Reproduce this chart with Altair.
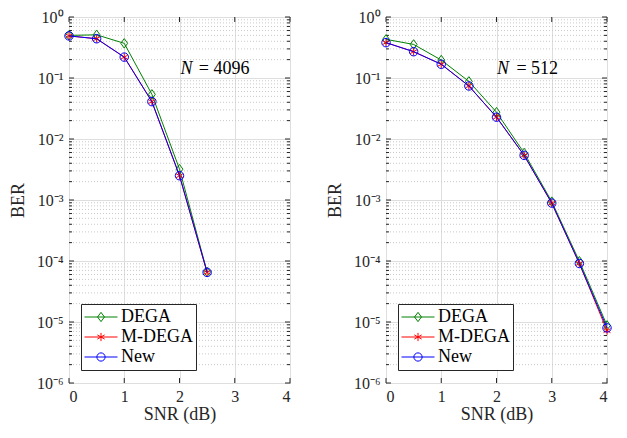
import altair as alt
import pandas as pd

# ---------------- data ----------------
series = ["DEGA", "M-DEGA", "New"]
colors = ["#008000", "#ff0000", "#0000ff"]

snr_4096 = [0, 0.5, 1, 1.5, 2, 2.5]
dega_4096 = [0.50, 0.51, 0.37, 0.054, 3.2e-3, 6.6e-5]
mdega_4096 = [0.49, 0.44, 0.22, 0.041, 2.5e-3, 6.5e-5]
new_4096 = [0.49, 0.44, 0.22, 0.041, 2.5e-3, 6.5e-5]

snr_512 = [0, 0.5, 1, 1.5, 2, 2.5, 3, 3.5, 4]
dega_512 = [0.43, 0.355, 0.197, 0.088, 0.0275, 5.9e-3, 9.4e-4, 9.9e-5, 8.8e-6]
mdega_512 = [0.38, 0.27, 0.168, 0.074, 0.0228, 5.4e-3, 8.9e-4, 9.1e-5, 7.2e-6]
new_512 = [0.38, 0.27, 0.168, 0.074, 0.0228, 5.4e-3, 8.9e-4, 9.1e-5, 8.0e-6]

x_ticks = [0, 1, 2, 3, 4]
y_major = [1e-6, 1e-5, 1e-4, 1e-3, 1e-2, 1e-1, 1]
y_labels = ["10⁻⁶", "10⁻⁵", "10⁻⁴", "10⁻³", "10⁻²", "10⁻¹", "10⁰"]
y_minor = [k * 10.0 ** e for e in range(-6, 0) for k in range(2, 10)]

ann_4096 = {"n_x": 2.02, "eq_x": 2.35, "y": 0.141, "eq": "= 4096"}
ann_512 = {"n_x": 2.01, "eq_x": 2.36, "y": 0.141, "eq": "= 512"}

# ---------------- style ----------------
FONT = "Liberation Serif"
AX = "#262626"
W, H = 221, 366

mark_paths = [
    "M0,-1L0.72,0L0,1L-0.72,0Z",
    "M0,-1L0,1M-0.87,-0.5L0.87,0.5M-0.87,0.5L0.87,-0.5",
    "circle",
]
mark_sizes = [90, 64, 72]

leg_paths = [
    "M-1,0L1,0M0,-0.28L0.21,0L0,0.28L-0.21,0Z",
    "M-1,0L1,0M0,-0.25L0,0.25M-0.22,-0.125L0.22,0.125M-0.22,0.125L0.22,-0.125",
    "M-1,0L1,0M0.25,0A0.25,0.25 0 1,1 -0.25,0A0.25,0.25 0 1,1 0.25,0",
]

xs = alt.Scale(domain=[0, 4], nice=False, zero=False)
ys = alt.Scale(type="log", domain=[1e-6, 1], nice=False)

label_expr = "[" + ",".join("'" + s + "'" for s in y_labels) + "][round(log(datum.value)/LN10)+6]"

x_axis = alt.Axis(values=x_ticks, format="d", title="SNR (dB)", grid=True,
                  gridColor="#dedede", ticks=False, domain=False, labelPadding=5,
                  titlePadding=1)
y_axis = alt.Axis(values=y_major, labelExpr=label_expr, title="BER", grid=True,
                  gridColor="#dedede", ticks=False, domain=False, labelPadding=6,
                  titlePadding=9)


def panel(snr, vals, ann):
    rows = []
    for s, v in zip(series, vals):
        for xv, yv in zip(snr, v):
            rows.append({"snr": xv, "ber": yv, "series": s})
    df = pd.DataFrame(rows)

    X = alt.X("snr:Q", scale=xs, axis=x_axis)
    Y = alt.Y("ber:Q", scale=ys, axis=y_axis)

    layers = []
    layers.append(
        alt.Chart(pd.DataFrame({"v": y_minor})).mark_rule(
            color="#c9c9c9", strokeDash=[1, 2], strokeWidth=1
        ).encode(y=alt.Y("v:Q", scale=ys, axis=y_axis))
    )
    ymaj = pd.DataFrame({"v": y_major})
    ymin = pd.DataFrame({"v": y_minor})
    for d, ln in ((ymaj, 5), (ymin, 3)):
        layers.append(alt.Chart(d).mark_rule(color=AX, strokeWidth=1).encode(
            y=alt.Y("v:Q", scale=ys, axis=y_axis), x=alt.value(0), x2=alt.value(ln)))
        layers.append(alt.Chart(d).mark_rule(color=AX, strokeWidth=1).encode(
            y=alt.Y("v:Q", scale=ys, axis=y_axis), x=alt.value(W), x2=alt.value(W - ln)))
    xt = pd.DataFrame({"v": x_ticks})
    layers.append(alt.Chart(xt).mark_rule(color=AX, strokeWidth=1).encode(
        x=alt.X("v:Q", scale=xs, axis=x_axis), y=alt.value(H), y2=alt.value(H - 5)))
    layers.append(alt.Chart(xt).mark_rule(color=AX, strokeWidth=1).encode(
        x=alt.X("v:Q", scale=xs, axis=x_axis), y=alt.value(0), y2=alt.value(5)))

    for s, c, p, sz in zip(series, colors, mark_paths, mark_sizes):
        sub = alt.Chart(df).transform_filter(alt.datum.series == s)
        layers.append(sub.mark_line(color=c, strokeWidth=1).encode(x=X, y=Y))
        layers.append(sub.mark_point(shape=p, color=c, size=sz, strokeWidth=1,
                                     filled=False, opacity=1).encode(x=X, y=Y))

    leg = alt.Legend(title=None, orient="none", legendX=12, legendY=287,
                     symbolSize=1089, clipHeight=20, symbolStrokeWidth=1,
                     symbolOpacity=1, fillColor="white", strokeColor=AX,
                     padding=3, labelFont=FONT, labelFontSize=18, labelColor="#000000",
                     labelOffset=3, rowPadding=0)
    layers.append(
        alt.Chart(df).mark_point(opacity=0, filled=False).encode(
            x=X, y=Y,
            color=alt.Color("series:N", scale=alt.Scale(domain=series, range=colors),
                            sort=series, legend=leg),
            shape=alt.Shape("series:N", scale=alt.Scale(domain=series, range=leg_paths),
                            sort=series, legend=leg),
        )
    )

    t1 = pd.DataFrame({"x": [ann["n_x"]], "y": [ann["y"]], "t": ["N"]})
    t2 = pd.DataFrame({"x": [ann["eq_x"]], "y": [ann["y"]], "t": [ann["eq"]]})
    layers.append(alt.Chart(t1).mark_text(font=FONT, fontStyle="italic", fontSize=18,
                                          align="left", baseline="middle", color="#000000").encode(
        x=alt.X("x:Q", scale=xs, axis=x_axis), y=alt.Y("y:Q", scale=ys, axis=y_axis), text="t:N"))
    layers.append(alt.Chart(t2).mark_text(font=FONT, fontSize=18,
                                          align="left", baseline="middle", color="#000000").encode(
        x=alt.X("x:Q", scale=xs, axis=x_axis), y=alt.Y("y:Q", scale=ys, axis=y_axis), text="t:N"))

    return alt.layer(*layers).properties(width=W, height=H)


left = panel(snr_4096, [dega_4096, mdega_4096, new_4096], ann_4096)
right = panel(snr_512, [dega_512, mdega_512, new_512], ann_512)

chart = (
    alt.hconcat(left, right, spacing=96, bounds="flush")
    .resolve_scale(color="independent", shape="independent")
    .resolve_legend(color="independent", shape="independent")
    .properties(padding={"left": 0, "top": 0, "right": 0, "bottom": 0})
    .configure_view(stroke=AX, strokeWidth=1)
    .configure_axis(labelFont=FONT, labelFontSize=16, labelColor=AX,
                    titleFont=FONT, titleFontSize=18, titleFontWeight="normal",
                    titleColor=AX)
)

chart.save("out.html", embed_options={"renderer": "svg", "actions": False})
